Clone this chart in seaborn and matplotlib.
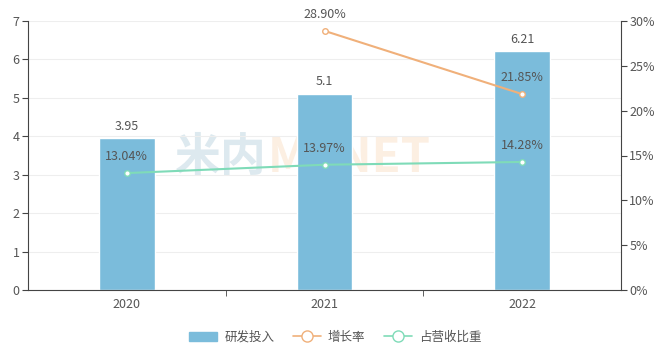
import numpy as np
import pandas as pd
import matplotlib.pyplot as plt
import seaborn as sns
from matplotlib.lines import Line2D
from matplotlib.patches import Patch

years = ["2020", "2021", "2022"]
rd_spend = [3.95, 5.1, 6.21]
growth = [np.nan, 28.90, 21.85]
revenue_share = [13.04, 13.97, 14.28]

bar_color = "#7bbcdb"
growth_color = "#f0b07a"
share_color = "#7fdbb8"
text_color = "#555555"

sns.set_style("white")
plt.rcParams["font.family"] = ["Noto Sans CJK SC", "DejaVu Sans"]

df = pd.DataFrame({"year": years, "rd": rd_spend, "growth": growth, "share": revenue_share})
df["pos"] = range(len(years))

fig = plt.figure(figsize=(6.71, 3.58), dpi=100)
ax = fig.add_axes([28 / 671, 68 / 358, 593 / 671, 269 / 358])

# watermark
ax.text(0.248, 0.49, "米内", transform=ax.transAxes, fontsize=33, fontweight="bold",
        color="#dde9ef", ha="left", va="center", zorder=0)
ax.text(0.405, 0.49, "MENET", transform=ax.transAxes, fontsize=34, fontweight="bold",
        color="#fcefe2", ha="left", va="center", zorder=0)

sns.barplot(data=df, x="year", y="rd", color=bar_color, width=0.28, saturation=1, ax=ax, zorder=2)
for p, v in zip(df["pos"], df["rd"]):
    ax.annotate(f"{v:g}", (p, v), xytext=(0, 4), textcoords="offset points",
                ha="center", va="bottom", fontsize=9, color=text_color, zorder=5)

ax.set_ylim(0, 7)
ax.set_xlim(-0.5, 2.5)
ax.set_yticks(range(0, 8))
ax.set_xlabel("")
ax.set_ylabel("")
ax.grid(axis="y", color="#eeeeee", linewidth=0.8)
ax.set_axisbelow(True)
ax.tick_params(axis="y", length=4, color="#444444", labelcolor=text_color, labelsize=9, pad=2, left=True)
ax.tick_params(axis="x", length=0, labelcolor=text_color, labelsize=9, pad=6)
ax.set_xticks([0.5, 1.5], minor=True)
ax.tick_params(axis="x", which="minor", length=4, color="#444444", bottom=True)
for s in ["top", "right"]:
    ax.spines[s].set_visible(False)
ax.spines["left"].set_color("#444444")
ax.spines["bottom"].set_color("#444444")

ax2 = ax.twinx()
sns.lineplot(data=df, x="pos", y="growth", color=growth_color, marker="o", markersize=4,
             markerfacecolor="white", markeredgecolor=growth_color, markeredgewidth=1,
             linewidth=1.5, ax=ax2, zorder=3)
sns.lineplot(data=df, x="pos", y="share", color=share_color, marker="o", markersize=4,
             markerfacecolor="white", markeredgecolor=share_color, markeredgewidth=1,
             linewidth=1.5, ax=ax2, zorder=3)
for p, v in zip(df["pos"], df["growth"]):
    if not np.isnan(v):
        ax2.annotate(f"{v:.2f}%", (p, v), xytext=(0, 7), textcoords="offset points",
                     ha="center", va="bottom", fontsize=9, color=text_color)
for p, v in zip(df["pos"], df["share"]):
    ax2.annotate(f"{v:.2f}%", (p, v), xytext=(0, 7), textcoords="offset points",
                 ha="center", va="bottom", fontsize=9, color=text_color)

ax2.set_ylim(0, 30)
ax2.set_yticks(range(0, 31, 5))
ax2.set_yticklabels([f"{t}%" for t in range(0, 31, 5)])
ax2.set_xlim(-0.5, 2.5)
ax2.set_xlabel("")
ax2.set_ylabel("")
ax2.tick_params(axis="y", length=4, color="#444444", labelcolor=text_color, labelsize=9, pad=2, right=True)
for s in ["top", "left", "bottom"]:
    ax2.spines[s].set_visible(False)
ax2.spines["right"].set_color("#444444")

handles = [
    Patch(facecolor=bar_color, edgecolor=bar_color, label="研发投入"),
    Line2D([0], [0], color=growth_color, marker="o", markerfacecolor="white", markersize=8,
           linewidth=1.2, label="增长率"),
    Line2D([0], [0], color=share_color, marker="o", markerfacecolor="white", markersize=8,
           linewidth=1.2, label="占营收比重"),
]
fig.legend(handles=handles, loc="center", bbox_to_anchor=(0.5, 21 / 358), ncol=3, frameon=False,
           fontsize=9, labelcolor=text_color, handlelength=2.2, columnspacing=1.5, handletextpad=0.6)

fig.savefig("out.png", dpi=100)
